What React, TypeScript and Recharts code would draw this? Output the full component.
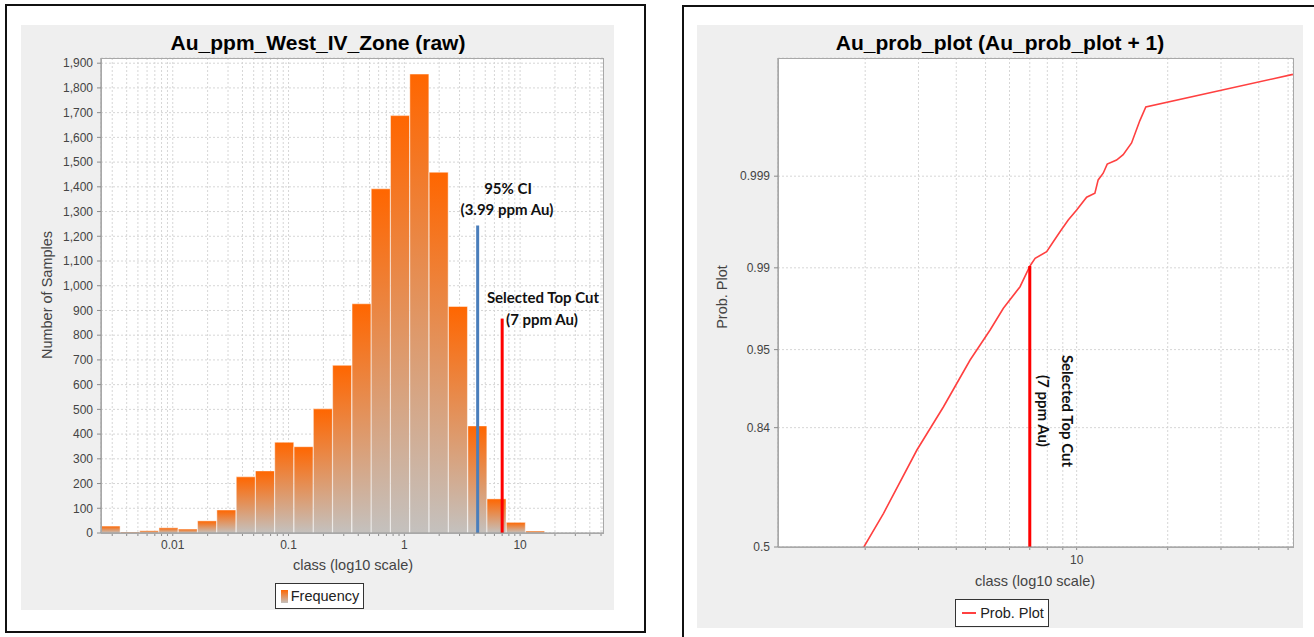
import React from 'react';
import { ComposedChart, Bar, Line, XAxis, YAxis, CartesianGrid, ReferenceLine, Legend } from 'recharts';

const FONT = '"Liberation Sans", Arial, sans-serif';
const NOTE_FONT = 'Lato, "Open Sans", sans-serif';

// --- left panel: histogram of Au ppm (log10 classes, 1/6 decade bins)
const binCentres = [
  0.00291, 0.00428, 0.00627, 0.0092, 0.01351, 0.01983, 0.0291, 0.0428, 0.0627, 0.092, 0.1351, 0.1983,
  0.291, 0.428, 0.627, 0.92, 1.351, 1.983, 2.91, 4.28, 6.27, 9.2, 13.51,
];
const binCounts = [28, 4, 9, 21, 16, 49, 93, 227, 251, 367, 349, 502, 678, 927, 1392, 1688, 1856, 1459, 916, 433, 138, 43, 8];
const histXTicks = [
  0.003, 0.004, 0.005, 0.006, 0.007, 0.008, 0.009, 0.01, 0.02, 0.03, 0.04, 0.05, 0.06, 0.07, 0.08, 0.09, 0.1,
  0.2, 0.3, 0.4, 0.5, 0.6, 0.7, 0.8, 0.9, 1, 2, 3, 4, 5, 6, 7, 8, 9, 10, 20, 30, 40, 50,
];
const histXLabels = [0.01, 0.1, 1, 10];
const histYTicks = [0, 100, 200, 300, 400, 500, 600, 700, 800, 900, 1000, 1100, 1200, 1300, 1400, 1500, 1600, 1700, 1800, 1900];
const ciValue = 4.3; // blue line as drawn
const ciTop = 1244;
const topCut = 7;
const topCutHistTop = 867;

// --- right panel: probability plot (Au + 1)
const probClass = [
  1.98, 2.3, 2.965, 3.63, 4.445, 5.175, 5.725, 6.5, 7.01, 7.29, 7.96, 8.37, 8.81, 9.38, 10, 10.79, 11.49,
  11.78, 12.24, 12.62, 13.55, 14.25, 15.19, 16.18, 16.93, 51.86,
];
const probValues = [
  0.5, 0.6106, 0.7905, 0.8788, 0.9404, 0.9647, 0.9767, 0.98496, 0.99041, 0.99193, 0.99307, 0.99452, 0.9957,
  0.99678, 0.99751, 0.99822, 0.9984, 0.99889, 0.99908, 0.99929, 0.99937, 0.99946, 0.99962, 0.99981, 0.999877,
  0.999959,
];
const probYTicks = [0.5, 0.84, 0.95, 0.99, 0.999];
const probXTicks = [2, 3, 4, 5, 6, 7, 8, 9, 10, 20, 30, 40, 50];
const topCutProb = 0.9904;

// inverse standard normal (Acklam) - used as the probability axis transform
function probit(p: number): number {
  const a = [-39.69683028665376, 220.9460984245205, -275.9285104469687, 138.357751867269, -30.66479806614716, 2.506628277459239];
  const b = [-54.47609879822406, 161.5858368580409, -155.6989798598866, 66.80131188771972, -13.28068155288572];
  const c = [-0.007784894002430293, -0.3223964580411365, -2.400758277161838, -2.549732539343734, 4.374664141464968, 2.938163982698783];
  const d = [0.007784695709041462, 0.3224671290700398, 2.445134137142996, 3.754408661907416];
  const plow = 0.02425;
  if (p < plow) {
    const q = Math.sqrt(-2 * Math.log(p));
    return (((((c[0] * q + c[1]) * q + c[2]) * q + c[3]) * q + c[4]) * q + c[5]) / ((((d[0] * q + d[1]) * q + d[2]) * q + d[3]) * q + 1);
  }
  if (p <= 1 - plow) {
    const q = p - 0.5;
    const r = q * q;
    return ((((((a[0] * r + a[1]) * r + a[2]) * r + a[3]) * r + a[4]) * r + a[5]) * q) / (((((b[0] * r + b[1]) * r + b[2]) * r + b[3]) * r + b[4]) * r + 1);
  }
  const q = Math.sqrt(-2 * Math.log(1 - p));
  return -(((((c[0] * q + c[1]) * q + c[2]) * q + c[3]) * q + c[4]) * q + c[5]) / ((((d[0] * q + d[1]) * q + d[2]) * q + d[3]) * q + 1);
}

const histData = binCentres.map((cls, i) => ({ cls, count: binCounts[i] }));
const probData = probClass.map((cls, i) => ({ cls, z: probit(probValues[i]) }));

const axisStroke = '#8a8a8a';
const tickStyle = { fill: '#444', fontSize: 12, fontFamily: FONT };

const centred = (left: number, top: number, extra: React.CSSProperties = {}): React.CSSProperties => ({
  position: 'absolute',
  left,
  top,
  transform: 'translate(-50%, -50%)',
  whiteSpace: 'nowrap',
  lineHeight: 1,
  ...extra,
});

function HistogramPanel() {
  return (
    <div style={{ position: 'absolute', left: 21, top: 25, width: 593, height: 585, background: '#efefef' }}>
      <div style={centred(297, 17, { fontSize: 21, fontWeight: 700, color: '#000' })}>Au_ppm_West_IV_Zone (raw)</div>
      <ComposedChart
        width={593}
        height={585}
        data={histData}
        margin={{ top: 33, right: 11, bottom: 1, left: 0 }}
        barCategoryGap={0}
        barGap={0}
      >
        <defs>
          <linearGradient id="barFill" x1="0" y1="0" x2="0" y2="1">
            <stop offset="0%" stopColor="#ff6600" />
            <stop offset="100%" stopColor="#c4c1be" />
          </linearGradient>
        </defs>
        <CartesianGrid stroke="#d6d6d6" strokeDasharray="2 2" fill="#fff" />
        <XAxis
          dataKey="cls"
          type="number"
          scale="log"
          domain={[0.0024, 52]}
          allowDataOverflow
          ticks={histXTicks}
          interval={0}
          tickFormatter={(v: number) => (histXLabels.includes(v) ? String(v) : '')}
          height={50}
          stroke={axisStroke}
          tickSize={3}
          tickMargin={4}
          tick={tickStyle}
        />
        <YAxis
          type="number"
          domain={[0, 1921]}
          allowDataOverflow
          ticks={histYTicks}
          interval={0}
          tickFormatter={(v: number) => v.toLocaleString('en-US')}
          width={80}
          stroke={axisStroke}
          tickSize={4}
          tickMargin={4}
          tick={tickStyle}
        />
        <Legend
          verticalAlign="bottom"
          content={() => (
            <div style={{ display: 'flex', justifyContent: 'center' }}>
              <div
                style={{
                  marginLeft: 15,
                  height: 24,
                  border: '1px solid #333',
                  background: '#fff',
                  display: 'flex',
                  alignItems: 'center',
                  padding: '0 4px 0 5px',
                  gap: 3,
                  fontSize: 14.5,
                  fontFamily: FONT,
                  color: '#222',
                }}
              >
                <svg width={7} height={13}>
                  <rect x={0} y={0} width={7} height={13} fill="url(#barFill)" />
                </svg>
                Frequency
              </div>
            </div>
          )}
        />
        <Bar dataKey="count" name="Frequency" fill="url(#barFill)" stroke="rgba(255,255,255,0.45)" strokeWidth={1} isAnimationActive={false} />
        <ReferenceLine segment={[{ x: ciValue, y: 0 }, { x: ciValue, y: ciTop }]} stroke="#4a7ebb" strokeWidth={3} />
        <ReferenceLine segment={[{ x: topCut, y: 0 }, { x: topCut, y: topCutHistTop }]} stroke="#ff0000" strokeWidth={3} />
      </ComposedChart>
      <div style={{ position: 'absolute', left: 80, top: 33, width: 501, height: 474, border: '1px solid #a8a8a8', pointerEvents: 'none' }} />
      <div style={centred(26, 270, { fontSize: 14.5, color: '#444', transform: 'translate(-50%, -50%) rotate(-90deg)' })}>Number of Samples</div>
      <div style={centred(332, 540, { fontSize: 14.5, color: '#444' })}>class (log10 scale)</div>
      <div style={centred(487, 163, { fontFamily: NOTE_FONT, fontWeight: 700, fontSize: 15, color: '#111' })}>95% CI</div>
      <div style={centred(486, 184, { fontFamily: NOTE_FONT, fontWeight: 700, fontSize: 15, color: '#111' })}>(3.99 ppm Au)</div>
      <div style={centred(522, 272, { fontFamily: NOTE_FONT, fontWeight: 700, fontSize: 15, color: '#111' })}>Selected Top Cut</div>
      <div style={centred(521, 294, { fontFamily: NOTE_FONT, fontWeight: 700, fontSize: 15, color: '#111' })}>(7 ppm Au)</div>
    </div>
  );
}

function ProbPanel() {
  return (
    <div style={{ position: 'absolute', left: 697, top: 25, width: 606, height: 603, background: '#efefef' }}>
      <div style={centred(303, 17, { fontSize: 21, fontWeight: 700, color: '#000' })}>Au_prob_plot (Au_prob_plot + 1)</div>
      <ComposedChart width={606} height={603} data={probData} margin={{ top: 33, right: 10, bottom: 1, left: 0 }}>
        <CartesianGrid stroke="#d6d6d6" strokeDasharray="2 2" fill="#fff" />
        <XAxis
          dataKey="cls"
          type="number"
          scale="log"
          domain={[1.03, 51.9]}
          allowDataOverflow
          ticks={probXTicks}
          interval={0}
          tickFormatter={(v: number) => (v === 10 ? '10' : '')}
          height={52}
          stroke={axisStroke}
          tickSize={3}
          tickMargin={5}
          tick={tickStyle}
        />
        <YAxis
          type="number"
          domain={[0, 4.075]}
          allowDataOverflow
          ticks={probYTicks.map(probit)}
          interval={0}
          tickFormatter={(v: number) => {
            const p = probYTicks.find((t) => Math.abs(probit(t) - v) < 1e-6);
            return p === undefined ? '' : String(p);
          }}
          width={81}
          stroke={axisStroke}
          tickSize={4}
          tickMargin={4}
          tick={tickStyle}
        />
        <Legend
          verticalAlign="bottom"
          content={() => (
            <div style={{ display: 'flex', justifyContent: 'center' }}>
              <div
                style={{
                  marginLeft: 14,
                  height: 26,
                  border: '1px solid #333',
                  background: '#fff',
                  display: 'flex',
                  alignItems: 'center',
                  padding: '0 4px 0 6px',
                  gap: 4,
                  fontSize: 14.5,
                  fontFamily: FONT,
                  color: '#222',
                }}
              >
                <svg width={14} height={4}>
                  <line x1={0} y1={2} x2={14} y2={2} stroke="#ff4040" strokeWidth={2} />
                </svg>
                Prob. Plot
              </div>
            </div>
          )}
        />
        <Line type="linear" dataKey="z" name="Prob. Plot" stroke="#ff4040" strokeWidth={1.6} dot={false} isAnimationActive={false} />
        <ReferenceLine segment={[{ x: topCut, y: 0 }, { x: topCut, y: probit(topCutProb) }]} stroke="#ff0000" strokeWidth={3} />
      </ComposedChart>
      <div style={{ position: 'absolute', left: 81, top: 33, width: 514, height: 488, border: '1px solid #a8a8a8', pointerEvents: 'none' }} />
      <div style={centred(25, 272, { fontSize: 14.5, color: '#444', transform: 'translate(-50%, -50%) rotate(-90deg)' })}>Prob. Plot</div>
      <div style={centred(338, 556, { fontSize: 14.5, color: '#444' })}>class (log10 scale)</div>
      <div
        style={centred(359, 386, {
          fontFamily: NOTE_FONT,
          fontWeight: 700,
          fontSize: 15,
          color: '#111',
          lineHeight: '24px',
          textAlign: 'center',
          transform: 'translate(-50%, -50%) rotate(90deg)',
        })}
      >
        Selected Top Cut
        <br />
        (7 ppm Au)
      </div>
    </div>
  );
}

export default function App() {
  return (
    <div style={{ position: 'absolute', left: 0, top: 0, width: 1314, height: 637, overflow: 'hidden', background: '#fff', fontFamily: FONT }}>
      <div style={{ position: 'absolute', left: 5, top: 4, width: 637, height: 625, border: '2px solid #111' }} />
      <div style={{ position: 'absolute', left: 682, top: 5, width: 640, height: 640, border: '2px solid #111' }} />
      <HistogramPanel />
      <ProbPanel />
    </div>
  );
}
